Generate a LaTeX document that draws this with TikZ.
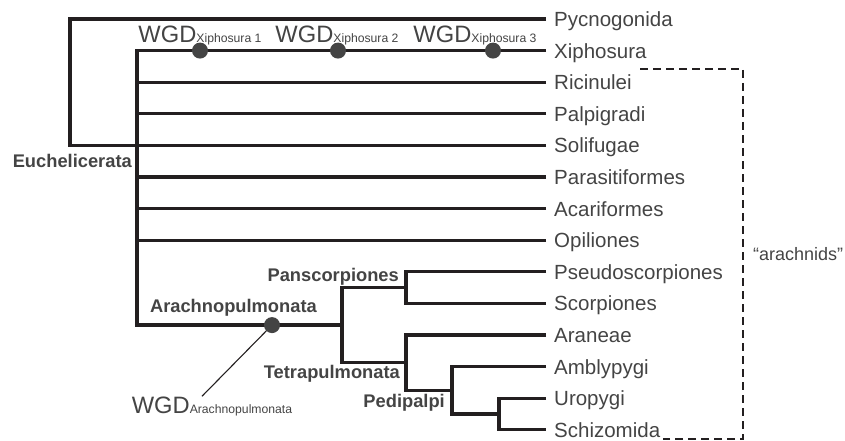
\documentclass[tikz,border=0pt]{standalone}
\usepackage{fontspec}
\setmainfont{Liberation Sans}
\usepackage{tikz}
\usetikzlibrary{positioning,calc}

\definecolor{linegray}{HTML}{231F20}
\definecolor{textgray}{HTML}{444444}
\newcommand{\wgdsub}[1]{{\fontsize{12.2}{13}\selectfont #1}}

\tikzset{
    branch/.style={draw=linegray, line width=3.3pt, line join=miter},
    leaf/.style={anchor=west, inner xsep=8pt, inner ysep=0pt, text height=15pt, text depth=0pt, text=textgray, font=\fontsize{20.5}{24}\selectfont},
    clade/.style={anchor=base east, inner sep=0pt, text=textgray, font=\fontsize{18.3}{22}\selectfont\bfseries},
    wgd/.style={anchor=base, inner sep=0pt, text=textgray, font=\fontsize{23.7}{28}\selectfont},
    dot/.style={circle, fill=textgray, inner sep=0pt, minimum size=16pt},
    bracket/.style={draw=linegray, line width=2.9pt, dash pattern=on 8pt off 5pt},
}

\begin{document}
\begin{tikzpicture}[x=1pt, y=-1pt]
    \useasboundingbox (0,0) rectangle (845,441);

    % Taxa
    \node[leaf] (pycno) at (546,19.0) {Pycnogonida};
    \node[leaf] (xiph) at (546,50.6) {Xiphosura};
    \node[leaf] (ricin) at (546,82.2) {Ricinulei};
    \node[leaf] (palpi) at (546,113.8) {Palpigradi};
    \node[leaf] (solif) at (546,145.4) {Solifugae};
    \node[leaf] (paras) at (546,177.0) {Parasitiformes};
    \node[leaf] (acari) at (546,208.6) {Acariformes};
    \node[leaf] (opil) at (546,240.2) {Opiliones};
    \node[leaf] (pseudo) at (546,271.8) {Pseudoscorpiones};
    \node[leaf] (scorp) at (546,303.4) {Scorpiones};
    \node[leaf] (aran) at (546,335.0) {Araneae};
    \node[leaf] (ambly) at (546,366.6) {Amblypygi};
    \node[leaf] (uropy) at (546,398.2) {Uropygi};
    \node[leaf] (schiz) at (546,429.8) {Schizomida};

    % Inner nodes
    \coordinate (root) at (70,145.4);
    \coordinate (euch) at (137,145.4);
    \coordinate (arachnop) at (342,325.1);
    \coordinate (panscorp) at (406,287.6);
    \coordinate (tetrap) at (406,362.7);
    \coordinate (pedip) at (452,390.3);
    \coordinate (uroschiz) at (499,414.0);

    % Backbone
    \draw[branch] (pycno.west) -| (root) -- (euch);
    \draw[branch] (xiph.west) -| (euch);
    \draw[branch] (ricin.west) -| (euch);
    \draw[branch] (palpi.west) -| (euch);
    \draw[branch] (solif.west) -- (euch);
    \draw[branch] (paras.west) -| (euch);
    \draw[branch] (acari.west) -| (euch);
    \draw[branch] (opil.west) -| (euch);
    \draw[branch] (arachnop) -| (euch);

    % Arachnopulmonata
    \draw[branch] (pseudo.west) -| (panscorp) |- (scorp.west);
    \draw[branch] (panscorp) -| (arachnop) |- (tetrap);
    \draw[branch] (aran.west) -| (tetrap) |- (pedip);
    \draw[branch] (ambly.west) -| (pedip) |- (uroschiz);
    \draw[branch] (uropy.west) -| (uroschiz) |- (schiz.west);

    % Clade names
    \node[clade] (euchlab) at (132,167) {Euchelicerata};
    \node[clade] (panslab) at (399,281) {Panscorpiones};
    \node[clade] (arachlab) at (317,312) {Arachnopulmonata};
    \node[clade] (tetralab) at (400,378) {Tetrapulmonata};
    \node[clade] (pediplab) at (445,407) {Pedipalpi};

    % Genome duplications
    \node[dot] (dotx1) at (200,50.6) {};
    \node[dot] (dotx2) at (338,50.6) {};
    \node[dot] (dotx3) at (493,50.6) {};
    \node[wgd] (wgdx1) at (200,43) {WGD\wgdsub{Xiphosura 1}};
    \node[wgd] (wgdx2) at (337,43) {WGD\wgdsub{Xiphosura 2}};
    \node[wgd] (wgdx3) at (475,43) {WGD\wgdsub{Xiphosura 3}};

    \node[wgd] (wgda) at (212,413) {WGD\wgdsub{Arachnopulmonata}};
    \draw[linegray, line width=1.1pt] (arachnop -| 272,0) -- ([xshift=-10pt]wgda.north);
    \node[dot] (dota) at (272,325.1) {};

    % Arachnids bracket
    \coordinate (brtop) at (640,69);
    \coordinate (brside) at (743,254);
    \coordinate (brbot) at (663,439);
    \draw[bracket] (brtop) -| (brside) |- (brbot);
    \node[anchor=west, inner xsep=10pt, text=textgray, font=\fontsize{18}{22}\selectfont] (arachn) at (brside) {“arachnids”};
\end{tikzpicture}
\end{document}
